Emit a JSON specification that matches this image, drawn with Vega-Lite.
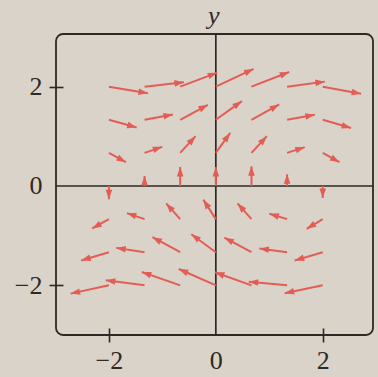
{
  "$schema": "https://vega.github.io/schema/vega-lite/v6.json",
  "autosize": {"type": "none"},
  "padding": {"left": 56, "top": 34, "right": 5, "bottom": 42},
  "width": 317,
  "height": 301,
  "background": "#d9d3c9",
  "config": {
    "view": {"stroke": "#2e2924", "strokeWidth": 1.8, "cornerRadius": 7, "fill": null},
    "axis": {"grid": false, "domain": false, "labelFont": "Liberation Serif", "labelFontSize": 26, "labelColor": "#2e2924", "tickWidth": 1.6, "tickSize": 14, "offset": -7, "title": null}
  },
  "datasets": {
    "field": [
      {"x": -2, "y": 2, "x2": -1.270, "y2": 1.865, "a": 9.7},
      {"x": -1.333, "y": 2, "x2": -0.597, "y2": 2.087, "a": -6.2},
      {"x": -0.667, "y": 2, "x2": 0.026, "y2": 2.282, "a": -20.7},
      {"x": 0, "y": 2, "x2": 0.706, "y2": 2.356, "a": -25.1},
      {"x": 0.667, "y": 2, "x2": 1.373, "y2": 2.296, "a": -21.3},
      {"x": 1.333, "y": 2, "x2": 2.039, "y2": 2.101, "a": -7.6},
      {"x": 2, "y": 2, "x2": 2.717, "y2": 1.859, "a": 10.4},
      {"x": -2, "y": 1.333, "x2": -1.481, "y2": 1.178, "a": 15.5},
      {"x": -1.333, "y": 1.333, "x2": -0.803, "y2": 1.440, "a": -10.6},
      {"x": -0.667, "y": 1.333, "x2": -0.148, "y2": 1.635, "a": -28.4},
      {"x": 0, "y": 1.333, "x2": 0.487, "y2": 1.709, "a": -35.7},
      {"x": 0.667, "y": 1.333, "x2": 1.186, "y2": 1.641, "a": -28.9},
      {"x": 1.333, "y": 1.333, "x2": 1.852, "y2": 1.434, "a": -10.2},
      {"x": 2, "y": 1.333, "x2": 2.530, "y2": 1.166, "a": 16.3},
      {"x": -2, "y": 0.667, "x2": -1.682, "y2": 0.480, "a": 28.7},
      {"x": -1.333, "y": 0.667, "x2": -1.002, "y2": 0.788, "a": -18.7},
      {"x": -0.667, "y": 0.667, "x2": -0.380, "y2": 1.003, "a": -47.5},
      {"x": 0, "y": 0.667, "x2": 0.268, "y2": 1.069, "a": -54.4},
      {"x": 0.667, "y": 0.667, "x2": 0.954, "y2": 1.003, "a": -47.5},
      {"x": 1.333, "y": 0.667, "x2": 1.664, "y2": 0.782, "a": -17.9},
      {"x": 2, "y": 0.667, "x2": 2.313, "y2": 0.480, "a": 29.1},
      {"x": -2, "y": 0, "x2": -2, "y2": -0.268, "a": 90},
      {"x": -1.333, "y": 0, "x2": -1.333, "y2": 0.201, "a": -90},
      {"x": -0.667, "y": 0, "x2": -0.667, "y2": 0.382, "a": -90},
      {"x": 0, "y": 0, "x2": 0, "y2": 0.382, "a": -90},
      {"x": 0.667, "y": 0, "x2": 0.667, "y2": 0.396, "a": -90},
      {"x": 1.333, "y": 0, "x2": 1.333, "y2": 0.235, "a": -90},
      {"x": 2, "y": 0, "x2": 2, "y2": -0.241, "a": 90},
      {"x": -2, "y": -0.667, "x2": -2.313, "y2": -0.854, "a": 150.9},
      {"x": -1.333, "y": -0.667, "x2": -1.664, "y2": -0.546, "a": -161.3},
      {"x": -0.667, "y": -0.667, "x2": -0.929, "y2": -0.351, "a": -131.7},
      {"x": 0, "y": -0.667, "x2": -0.234, "y2": -0.275, "a": -122.7},
      {"x": 0.667, "y": -0.667, "x2": 0.405, "y2": -0.349, "a": -131.5},
      {"x": 1.333, "y": -0.667, "x2": 1.002, "y2": -0.560, "a": -163.3},
      {"x": 2, "y": -0.667, "x2": 1.700, "y2": -0.862, "a": 148.8},
      {"x": -2, "y": -1.333, "x2": -2.519, "y2": -1.500, "a": 163.3},
      {"x": -1.333, "y": -1.333, "x2": -1.863, "y2": -1.246, "a": -171.4},
      {"x": -0.667, "y": -1.333, "x2": -1.186, "y2": -1.031, "a": -151.6},
      {"x": 0, "y": -1.333, "x2": -0.459, "y2": -0.971, "a": -143.7},
      {"x": 0.667, "y": -1.333, "x2": 0.161, "y2": -1.041, "a": -151.8},
      {"x": 1.333, "y": -1.333, "x2": 0.814, "y2": -1.259, "a": -172.4},
      {"x": 2, "y": -1.333, "x2": 1.476, "y2": -1.500, "a": 163.5},
      {"x": -2, "y": -2, "x2": -2.717, "y2": -2.167, "a": 167.8},
      {"x": -1.333, "y": -2, "x2": -2.058, "y2": -1.899, "a": -172.6},
      {"x": -0.667, "y": -2, "x2": -1.384, "y2": -1.732, "a": -160.8},
      {"x": 0, "y": -2, "x2": -0.693, "y2": -1.672, "a": -156.2},
      {"x": 0.667, "y": -2, "x2": -0.017, "y2": -1.738, "a": -160.4},
      {"x": 1.333, "y": -2, "x2": 0.616, "y2": -1.926, "a": -174.5},
      {"x": 2, "y": -2, "x2": 1.288, "y2": -2.161, "a": 168.1}
    ],
    "axislabel": [{"label": "y", "x": 0, "y": 3.06}]
  },
  "layer": [
    {
      "data": {"name": "axislabel"},
      "mark": {"type": "rule", "color": "#2e2924", "strokeWidth": 1.7},
      "encoding": {"x": {"datum": 0, "type": "quantitative", "scale": {"domain": [-2.99, 2.94]}}}
    },
    {
      "data": {"name": "axislabel"},
      "mark": {"type": "rule", "color": "#2e2924", "strokeWidth": 1.7},
      "encoding": {"y": {"datum": 0, "type": "quantitative", "scale": {"domain": [-3.0, 3.06]}}}
    },
    {
      "data": {"name": "field"},
      "mark": {"type": "rule", "color": "#e35d55", "strokeWidth": 2},
      "encoding": {
        "x": {"field": "x", "type": "quantitative", "scale": {"domain": [-2.99, 2.94], "nice": false, "zero": false},
              "axis": {"values": [-2, 0, 2], "labelPadding": 5, "tickColor": {"condition": {"test": "datum.value === 0", "value": "transparent"}, "value": "#2e2924"}}},
        "y": {"field": "y", "type": "quantitative", "scale": {"domain": [-3.0, 3.06], "nice": false, "zero": false},
              "axis": {"values": [-2, 0, 2], "labelPadding": 7, "tickColor": {"condition": {"test": "datum.value === 0", "value": "transparent"}, "value": "#2e2924"}}},
        "x2": {"field": "x2"},
        "y2": {"field": "y2"}
      }
    },
    {
      "data": {"name": "field"},
      "mark": {"type": "point", "filled": true, "color": "#e35d55", "opacity": 1, "shape": "M0,0 L-2,-0.7 L-2,0.7 Z", "size": 90},
      "encoding": {
        "x": {"field": "x2", "type": "quantitative"},
        "y": {"field": "y2", "type": "quantitative"},
        "angle": {"field": "a", "type": "quantitative", "scale": null}
      }
    },
    {
      "data": {"name": "axislabel"},
      "mark": {"type": "text", "font": "Liberation Serif", "fontStyle": "italic", "fontSize": 26, "color": "#2e2924", "baseline": "alphabetic", "align": "center", "dy": -10, "dx": -2, "clip": false},
      "encoding": {
        "x": {"field": "x", "type": "quantitative"},
        "y": {"field": "y", "type": "quantitative"},
        "text": {"field": "label"}
      }
    }
  ]
}
